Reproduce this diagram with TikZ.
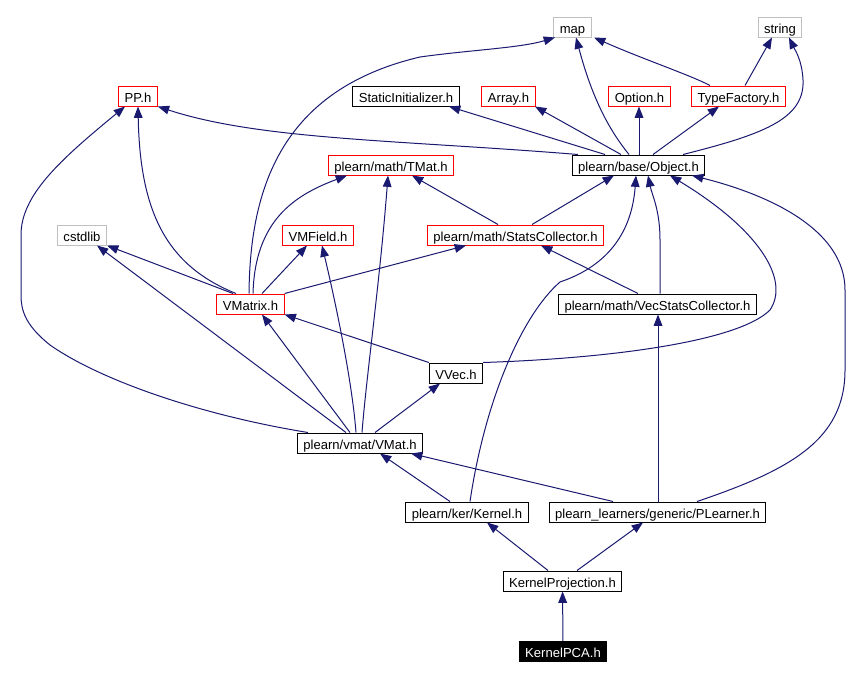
\documentclass[tikz,border=0pt]{standalone}
\usepackage{fontspec}
\setmainfont{Liberation Sans}
\usetikzlibrary{arrows.meta}
\definecolor{edgeblue}{HTML}{191970}
\definecolor{extgray}{HTML}{BFBFBF}

\begin{document}
\begin{tikzpicture}[x=0.75pt, y=-0.75pt,
  every node/.style={font=\fontsize{9.8}{11}\selectfont},
  box/.style={draw, line width=0.75pt, inner xsep=4.5pt, inner ysep=1pt, text height=9.4pt, text depth=0pt, minimum height=15pt},
  redbox/.style={box, draw=red},
  extbox/.style={box, draw=extgray},
  dep/.style={draw=edgeblue, line width=0.75pt, -{Triangle[length=8.5pt, width=6.5pt]}}]
  \useasboundingbox (0,0) rectangle (862,678);

  % system headers
  \node[extbox] (map) at (572.5,27) {map};
  \node[extbox] (string) at (780,27) {string};
  \node[extbox] (cstdlib) at (82,235) {cstdlib};

  % plearn headers
  \node[redbox] (pp) at (138,96) {PP.h};
  \node[box] (si) at (406,96) {StaticInitializer.h};
  \node[redbox] (array) at (508.5,96) {Array.h};
  \node[redbox] (option) at (639.5,96) {Option.h};
  \node[redbox] (tf) at (738.5,96) {TypeFactory.h};
  \node[box] (obj) at (638.5,165) {plearn/base/Object.h};
  \node[redbox] (tmat) at (391,165) {plearn/math/TMat.h};
  \node[redbox] (vmfield) at (318,235) {VMField.h};
  \node[redbox] (statsc) at (515.5,235) {plearn/math/StatsCollector.h};
  \node[redbox] (vmatrix) at (250.5,304) {VMatrix.h};
  \node[box] (vsc) at (657.5,304) {plearn/math/VecStatsCollector.h};
  \node[box] (vvec) at (456,373) {VVec.h};
  \node[box] (vmat) at (360,443) {plearn/vmat/VMat.h};
  \node[box] (ker) at (467,512) {plearn/ker/Kernel.h};
  \node[box] (plearner) at (657.5,512) {plearn\_learners/generic/PLearner.h};
  \node[box] (kp) at (562.5,581) {KernelProjection.h};
  \node[box, fill=black, text=white] (kpca) at (563,651.5) {KernelPCA.h};

  % KernelPCA / KernelProjection
  \draw[dep] (kpca) -- (kp);
  \draw[dep] (kp.north -| 548,0) -- (ker.south -| 487,0);
  \draw[dep] (kp.north -| 577,0) -- (plearner.south -| 643,0);

  % Kernel and PLearner
  \draw[dep] (ker.north -| 450,0) -- (vmat.south -| 380,0);
  \draw[dep] (ker.north -| 470,0) .. controls (485,400) and (522,315) .. (560,282)
    .. controls (610,265) and (632,230) .. (obj.south -| 636,0);
  \draw[dep] (plearner.north -| 613,0) -- (vmat.south -| 411,0);
  \draw[dep] (plearner.north -| 658,0) -- (vsc.south -| 658,0);
  \draw[dep] (plearner.north -| 697,0) .. controls (790,470) and (845,440) .. (845,370)
    -- (845,290) .. controls (845,230) and (770,195) .. (obj.south -| 692,0);

  % VMat
  \draw[dep] (vmat.north -| 375,0) -- (vvec.south -| 440,0);
  \draw[dep] (vmat.north -| 350,0) -- (vmatrix.south -| 262,0);
  \draw[dep] (vmat.north -| 356,0) .. controls (352,380) and (335,300) .. (vmfield.south -| 322,0);
  \draw[dep] (vmat.north -| 362,0) .. controls (366,380) and (380,280) .. (tmat.south -| 388,0);
  \draw[dep] (vmat.north -| 346,0) -- (cstdlib.south -| 97,0);
  \draw[dep] (vmat.north -| 308,0) .. controls (200,415) and (100,380) .. (50,345)
    .. controls (25,325) and (21,310) .. (21,295) -- (21,235)
    .. controls (21,195) and (60,160) .. (pp.south -| 125,0);

  % VVec and VecStatsCollector
  \draw[dep] (vvec.north west) -- (vmatrix.south east);
  \draw[dep] (vvec.north east) .. controls (620,358) and (740,340) .. (770,310)
    .. controls (790,280) and (760,230) .. (obj.south -| 670,0);
  \draw[dep] (vsc.north -| 638,0) -- (statsc.south -| 541,0);
  \draw[dep] (vsc.north -| 660,0) -- (660,240) .. controls (660,210) and (652,195) .. (obj.south -| 648,0);

  % VMatrix
  \draw[dep] (vmatrix.north -| 233,0) -- (cstdlib.south east);
  \draw[dep] (vmatrix.north -| 236,0) .. controls (165,265) and (140,210) .. (pp.south -| 138,0);
  \draw[dep] (vmatrix.north -| 249,0) .. controls (250,190) and (280,90) .. (420,57)
    .. controls (470,50) and (520,48) .. (map.south -| 555,0);
  \draw[dep] (vmatrix.north -| 253,0) .. controls (255,220) and (295,195) .. (tmat.south -| 347,0);
  \draw[dep] (vmatrix.north -| 262,0) -- (vmfield.south -| 307,0);
  \draw[dep] (vmatrix.north east) -- (statsc.south -| 466,0);

  % StatsCollector
  \draw[dep] (statsc.north -| 498,0) -- (tmat.south -| 412,0);
  \draw[dep] (statsc.north -| 532,0) -- (obj.south -| 614,0);

  % Object
  \draw[dep] (obj.north -| 578,0) .. controls (400,140) and (260,140) .. (pp.south east);
  \draw[dep] (obj.north -| 605,0) -- (si.south -| 449,0);
  \draw[dep] (obj.north -| 621,0) -- (array.south -| 535,0);
  \draw[dep] (obj.north -| 629,0) .. controls (605,125) and (590,90) .. (map.south -| 576,0);
  \draw[dep] (obj.north -| 639,0) -- (option.south -| 639,0);
  \draw[dep] (obj.north -| 653,0) -- (tf.south -| 719,0);
  \draw[dep] (obj.north -| 683,0) .. controls (760,135) and (805,120) .. (803,80)
    .. controls (802,60) and (795,50) .. (string.south -| 789,0);

  % TypeFactory
  \draw[dep] (tf.north -| 710,0) .. controls (690,75) and (640,58) .. (map.south -| 594,0);
  \draw[dep] (tf.north -| 745,0) -- (string.south -| 772,0);
\end{tikzpicture}
\end{document}
